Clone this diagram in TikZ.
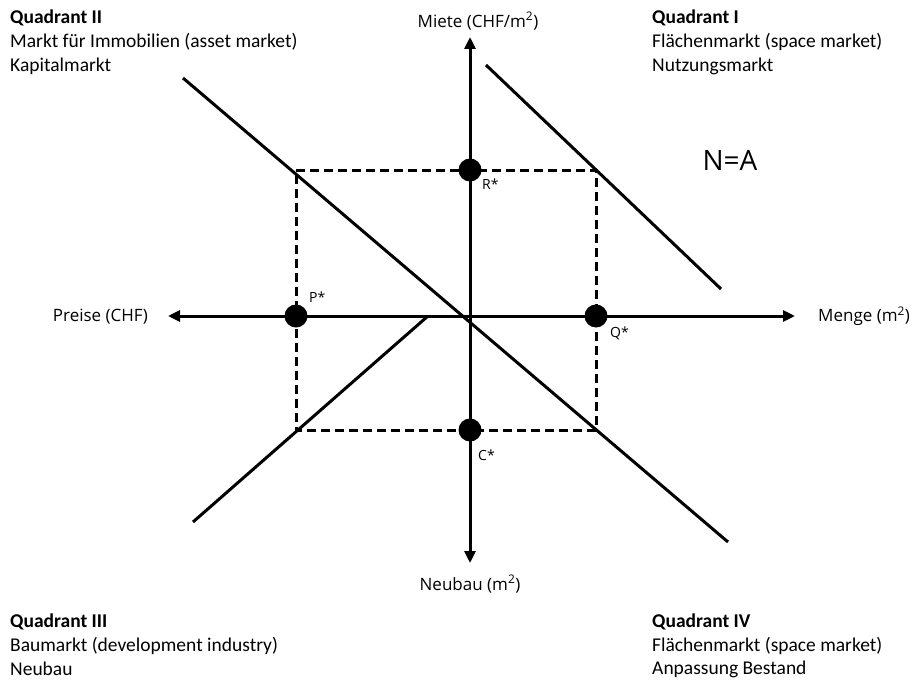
\documentclass[tikz,border=0pt]{standalone}
\usepackage{fontspec}
\setmainfont{Carlito}
\newfontfamily\axisfont{Open Sans}
\usetikzlibrary{arrows.meta}
\begin{document}
\begin{tikzpicture}[x=1pt,y=-1pt,
  axis/.style={line width=3pt,-{Triangle[length=12pt,width=11pt]}},
  curve/.style={line width=3pt},
  guide/.style={line width=3pt,dash pattern=on 9pt off 5pt},
  dot/.style={circle,fill=black,inner sep=0pt,minimum size=23pt},
  qtext/.style={anchor=west,inner sep=0pt,font=\fontsize{19.5}{22}\selectfont},
  atext/.style={inner sep=0pt,font=\axisfont\fontsize{17}{20}\selectfont},
  stext/.style={inner sep=0pt,font=\axisfont\fontsize{14}{16}\selectfont}]
\useasboundingbox (0,0) rectangle (917,682);
% coordinates
\coordinate (O) at (470,316);
\coordinate (top) at (470,37);
\coordinate (bot) at (470,563);
\coordinate (left) at (168,316);
\coordinate (right) at (795,316);
\coordinate (cTL) at (296,170);
\coordinate (cTR) at (596,170);
\coordinate (cBR) at (596,430);
\coordinate (cBL) at (296,430);
\coordinate (q1a) at (486,65);
\coordinate (q1b) at (721,289);
\coordinate (q2a) at (183,78);
\coordinate (q2b) at (728,542);
\coordinate (q3a) at (193,522);
\coordinate (q3b) at (428,316);
% dashed rectangle
\draw[guide] (cTL) -- (cTR) -- (cBR) -- (cBL) -- cycle;
% axes
\draw[axis] (O) -- (top);
\draw[axis] (O) -- (bot);
\draw[axis] (O) -- (left);
\draw[axis] (O) -- (right);
% lines
\draw[curve] (q1a) -- (q1b);
\draw[curve] (q2a) -- (q2b);
\draw[curve] (q3a) -- (q3b);
% dots
\node[dot] (R) at (470,170) {};
\node[dot] (P) at (296,316) {};
\node[dot] (Q) at (596,316) {};
\node[dot] (C) at (470,430) {};
\node[stext,anchor=west] (Rl) at (482,184) {R*};
\node[stext,anchor=west] (Pl) at (309,297) {P*};
\node[stext,anchor=west] (Ql) at (610,333) {Q*};
\node[stext,anchor=west] (Cl) at (478,455) {C*};
% axis labels
\node[atext] (miete) at (478,21) {Miete (CHF/m\textsuperscript{2})};
\node[atext] (neubau) at (470,584) {Neubau (m\textsuperscript{2})};
\node[atext,anchor=east] (preise) at (148,317) {Preise (CHF)};
\node[atext,anchor=west] (menge) at (818,316) {Menge (m\textsuperscript{2})};
\node[inner sep=0pt,font=\axisfont\fontsize{28}{32}\selectfont] (NA) at (730,160) {N=A};
% quadrant texts
\node[qtext] (q2t1) at (10,18) {\textbf{Quadrant II}};
\node[qtext] (q2t2) at (10,42) {Markt für Immobilien (asset market)};
\node[qtext] (q2t3) at (10,66) {Kapitalmarkt};
\node[qtext] (q1t1) at (652,18) {\textbf{Quadrant I}};
\node[qtext] (q1t2) at (652,42) {Flächenmarkt (space market)};
\node[qtext] (q1t3) at (652,66) {Nutzungsmarkt};
\node[qtext] (q3t1) at (10,622) {\textbf{Quadrant III}};
\node[qtext] (q3t2) at (10,646) {Baumarkt (development industry)};
\node[qtext] (q3t3) at (10,669) {Neubau};
\node[qtext] (q4t1) at (652,622) {\textbf{Quadrant IV}};
\node[qtext] (q4t2) at (652,646) {Flächenmarkt (space market)};
\node[qtext] (q4t3) at (652,669) {Anpassung Bestand};
\end{tikzpicture}
\end{document}
